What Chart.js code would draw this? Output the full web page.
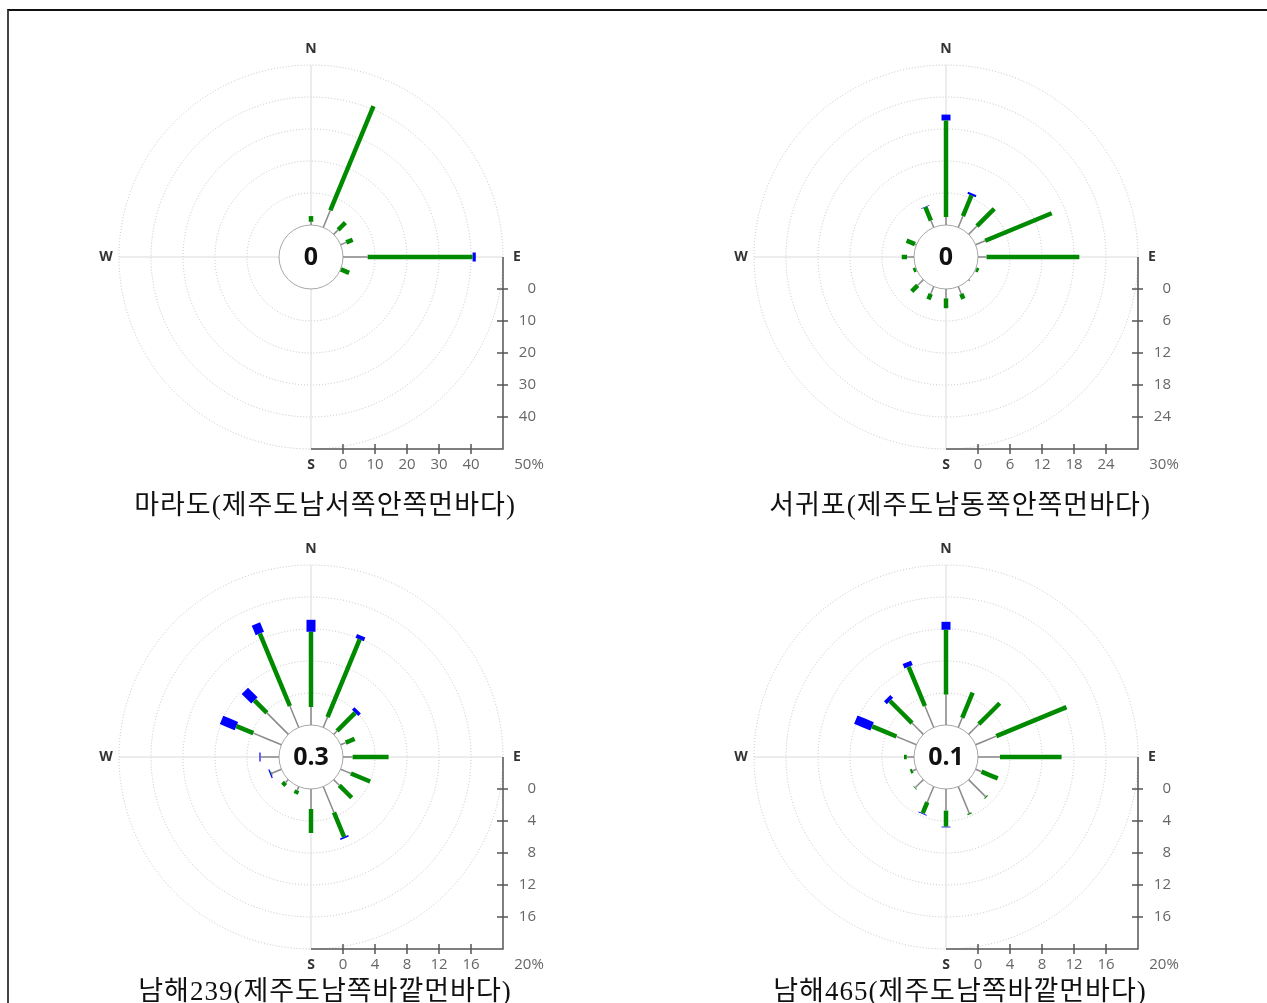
<!DOCTYPE html>
<html lang="ko">
<head>
<meta charset="utf-8">
<title>바람장미</title>
<script src="https://cdn.jsdelivr.net/npm/chart.js@4.4.1/dist/chart.umd.min.js"></script>
<style>
  html, body { margin: 0; padding: 0; background: #fff; }
  body { width: 1267px; height: 1003px; position: relative; overflow: hidden; }
  .frame { position: absolute; left: 7px; top: 9px; width: 1270px; height: 1000px;
           border-top: 2px solid #111; border-left: 2px solid #444; }
  canvas { position: absolute; }
  .title { position: absolute; width: 520px; text-align: center; line-height: 30px; letter-spacing: 1px;
           font-family: "Liberation Serif", "Noto Sans CJK KR", serif; font-size: 27px; color: #111; }
</style>
</head>
<body>
<div class="frame"></div>
<canvas id="marado" width="600" height="480" style="left:11px;top:17px"></canvas>
<canvas id="seogwipo" width="600" height="480" style="left:646px;top:17px"></canvas>
<canvas id="nam239" width="600" height="480" style="left:11px;top:517px"></canvas>
<canvas id="nam465" width="600" height="480" style="left:646px;top:517px"></canvas>
<div class="title" style="left:65px;top:490px">마라도(제주도남서쪽안쪽먼바다)</div>
<div class="title" style="left:700px;top:490px">서귀포(제주도남동쪽안쪽먼바다)</div>
<div class="title" style="left:65px;top:976px">남해239(제주도남쪽바깥먼바다)</div>
<div class="title" style="left:700px;top:976px">남해465(제주도남쪽바깥먼바다)</div>

<script>
const directions = ['N', 'NNE', 'NE', 'ENE', 'E', 'ESE', 'SE', 'SSE',
                    'S', 'SSW', 'SW', 'WSW', 'W', 'WNW', 'NW', 'NNW'];

// 마라도 (%)
const maradoCalm = '0';
const maradoMax = 50;
const maradoTicks = [0, 10, 20, 30, 40];
const maradoLow  = [1.0, 5.8, 2.0, 1.9, 7.7, 0.1, 0, 0, 0, 0, 0, 0, 0, 0, 0, 0];
const maradoMid  = [1.8, 35.2, 3.2, 2.2, 32.8, 2.8, 0, 0, 0, 0, 0, 0, 0, 0, 0, 0];
const maradoHigh = [0, 0, 0, 0, 1.0, 0, 0, 0, 0, 0, 0, 0, 0, 0, 0, 0];

// 서귀포
const seogwipoCalm = '0';
const seogwipoMax = 30;
const seogwipoTicks = [0, 6, 12, 18, 24];
const seogwipoLow  = [1.5, 2.3, 2.2, 1.95, 1.6, 0.1, 0.3, 1.5, 1.75, 1.5, 1.5, 0.1, 1.3, 0.3, 0, 1.4];
const seogwipoMid  = [18.1, 4.2, 4.6, 13.5, 17.4, 0.5, 0, 1.0, 1.85, 1.1, 1.6, 0.5, 1.0, 1.7, 0, 2.7];
const seogwipoHigh = [1.1, 0.4, 0, 0, 0, 0, 0, 0, 0, 0, 0, 0, 0, 0, 0, 0.1];

// 남해239
const nam239Calm = '0.3';
const nam239Max = 20;
const nam239Ticks = [0, 4, 8, 12, 16];
const nam239Low  = [2.25, 1.4, 0.6, 0.7, 1.2, 1.4, 1.0, 3.5, 2.5, 0.5, 0.5, 1.3, 2.3, 3.8, 3.8, 2.9];
const nam239Mid  = [9.4, 10.5, 3.2, 1.2, 4.5, 2.6, 2.2, 3.3, 3.0, 0.5, 0.5, 0.1, 0, 2.3, 2.2, 9.8];
const nam239High = [1.5, 0.5, 0.45, 0, 0, 0, 0, 0.2, 0, 0, 0, 0.15, 0.15, 2.0, 1.7, 1.3];

// 남해465
const nam465Calm = '0.1';
const nam465Max = 20;
const nam465Ticks = [0, 4, 8, 12, 16];
const nam465Low  = [3.8, 1.3, 1.8, 2.8, 2.75, 0.8, 3.0, 3.6, 2.7, 2.1, 1.4, 0.5, 0.9, 2.7, 2.0, 2.9];
const nam465Mid  = [8.1, 3.4, 3.7, 9.5, 7.7, 2.2, 0.15, 0.15, 2.0, 1.5, 0.1, 0.3, 0.35, 3.3, 3.9, 5.3];
const nam465High = [1.0, 0, 0, 0, 0, 0, 0, 0, 0.1, 0.1, 0, 0, 0, 2.2, 0.5, 0.6];

const speedColors = ['#8a8a8a', '#008a00', '#0000ff'];
const speedWidths = [1.5, 4.5, 9];

function toXY(r, i) {
    const a = i * 22.5 * Math.PI / 180;
    return { x: r * Math.sin(a), y: r * Math.cos(a) };
}

// one short line per direction and speed class, stacked outward from the calm circle
function roseDatasets(low, mid, high, hole) {
    const sets = [];
    directions.forEach((d, i) => {
        let r = hole;
        [low[i], mid[i], high[i]].forEach((v, k) => {
            if (v > 0) {
                sets.push({
                    label: d,
                    data: [toXY(r, i), toXY(r + v, i)],
                    showLine: true,
                    tension: 0.1, // keeps chart.js off its fast path, which spikes on short thick lines
                    borderColor: speedColors[k],
                    borderWidth: speedWidths[k],
                    borderCapStyle: 'butt',
                    borderJoinStyle: 'bevel',
                    pointRadius: 0,
                    pointHoverRadius: 0
                });
            }
            r += v;
        });
    });
    return sets;
}

const windRosePlugin = {
    id: 'windRose',
    beforeDatasetsDraw(chart, args, opts) {
        const { ctx, scales: { x, y } } = chart;
        const cx = x.getPixelForValue(0), cy = y.getPixelForValue(0);
        const unit = x.getPixelForValue(1) - cx;
        const hole = opts.max / 5;
        const R = (opts.max + hole) * unit;
        ctx.save();

        // dotted rings
        ctx.strokeStyle = '#c2c2c2';
        ctx.lineWidth = 1;
        ctx.setLineDash([1, 2]);
        opts.ticks.concat([opts.max]).forEach(v => {
            if (v === 0) return;
            ctx.beginPath();
            ctx.arc(cx, cy, (hole + v) * unit, 0, Math.PI * 2);
            ctx.stroke();
        });
        ctx.setLineDash([]);

        // cross hair
        ctx.strokeStyle = '#dadada';
        ctx.beginPath();
        ctx.moveTo(cx, cy - R); ctx.lineTo(cx, cy + R);
        ctx.moveTo(cx - R, cy); ctx.lineTo(cx + R, cy);
        ctx.stroke();

        // scale axes, bottom and right
        ctx.strokeStyle = '#555';
        ctx.lineWidth = 1.5;
        ctx.beginPath();
        ctx.moveTo(cx, cy + R); ctx.lineTo(cx + R, cy + R); ctx.lineTo(cx + R, cy);
        opts.ticks.forEach(v => {
            const p = (hole + v) * unit;
            ctx.moveTo(cx + p, cy + R - 5); ctx.lineTo(cx + p, cy + R + 5);
            ctx.moveTo(cx + R - 6, cy + p); ctx.lineTo(cx + R + 5, cy + p);
        });
        ctx.stroke();

        // calm circle
        ctx.fillStyle = '#fff';
        ctx.strokeStyle = '#a6a6a6';
        ctx.lineWidth = 1;
        ctx.beginPath();
        ctx.arc(cx, cy, hole * unit, 0, Math.PI * 2);
        ctx.fill();
        ctx.stroke();
        ctx.restore();
    },
    afterDraw(chart, args, opts) {
        const { ctx, scales: { x, y } } = chart;
        const cx = x.getPixelForValue(0), cy = y.getPixelForValue(0);
        const unit = x.getPixelForValue(1) - cx;
        const hole = opts.max / 5;
        const R = (opts.max + hole) * unit;
        ctx.save();
        ctx.textBaseline = 'middle';

        ctx.fillStyle = '#111';
        ctx.textAlign = 'center';
        ctx.font = 'bold 25px "Open Sans"';
        ctx.fillText(opts.calm, cx, cy + 1);

        ctx.fillStyle = '#333';
        ctx.font = 'bold 14px "Open Sans"';
        ctx.fillText('N', cx, cy - R - 16);
        ctx.fillText('S', cx, cy + R + 16);
        ctx.fillText('E', cx + R + 14, cy);
        ctx.fillText('W', cx - R - 13, cy);

        ctx.fillStyle = '#666';
        ctx.font = '15px "Open Sans"';
        opts.ticks.forEach(v => {
            const p = (hole + v) * unit;
            ctx.textAlign = 'center';
            ctx.fillText(String(v), cx + p, cy + R + 16);
            ctx.textAlign = 'right';
            ctx.fillText(String(v), cx + R + 33, cy + p);
        });
        ctx.textAlign = 'center';
        ctx.fillText(opts.max + '%', cx + R + 26, cy + R + 16);
        ctx.restore();
    }
};

function drawRose(canvasId, calm, max, ticks, low, mid, high) {
    const hole = max / 5;
    const R = max + hole;
    const ctx = document.getElementById(canvasId).getContext('2d');
    return new Chart(ctx, {
        type: 'scatter',
        data: { datasets: roseDatasets(low, mid, high, hole) },
        options: {
            responsive: false,
            animation: false,
            layout: { padding: { left: 108, right: 108, top: 48, bottom: 48 } },
            scales: {
                x: { type: 'linear', min: -R, max: R, display: false },
                y: { type: 'linear', min: -R, max: R, display: false }
            },
            plugins: {
                legend: { display: false },
                tooltip: { enabled: false },
                windRose: { calm: calm, max: max, ticks: ticks }
            }
        },
        plugins: [windRosePlugin]
    });
}

drawRose('marado', maradoCalm, maradoMax, maradoTicks, maradoLow, maradoMid, maradoHigh);
drawRose('seogwipo', seogwipoCalm, seogwipoMax, seogwipoTicks, seogwipoLow, seogwipoMid, seogwipoHigh);
drawRose('nam239', nam239Calm, nam239Max, nam239Ticks, nam239Low, nam239Mid, nam239High);
drawRose('nam465', nam465Calm, nam465Max, nam465Ticks, nam465Low, nam465Mid, nam465High);
</script>
</body>
</html>
